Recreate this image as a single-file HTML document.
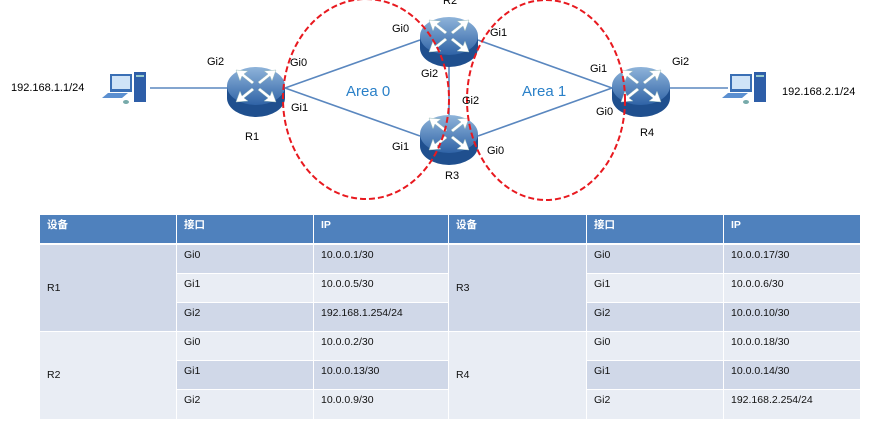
<!DOCTYPE html>
<html><head><meta charset="utf-8"><style>
body{margin:0;width:876px;height:430px;background:#fff;overflow:hidden;font-family:"Liberation Sans","Noto Sans CJK SC",sans-serif;}
svg{position:absolute;left:0;top:0}
.t{position:absolute;font-size:11px;color:#000;}
.c{position:absolute;box-sizing:border-box;padding:4px 0 0 7px;font-size:10.5px;color:#111;line-height:13px;}
.h{background:#4f81bd;color:#fff;font-weight:bold;top:215px;height:28px;}
.d{background:#d0d8e8}.l{background:#e9edf4}
.g{padding-top:0;display:flex;align-items:center}
</style></head><body>
<svg width="876" height="215">
<defs>
<linearGradient id="rg" x1="0" y1="0" x2="0" y2="1"><stop offset="0" stop-color="#8fb4da"/><stop offset="1" stop-color="#2f63a6"/></linearGradient>
<g id="r">
<ellipse cx="0" cy="8" rx="29" ry="19" fill="#1f4f8e"/>
<rect x="-29" y="-4" width="58" height="12" fill="#1f4f8e"/>
<ellipse cx="0" cy="-4" rx="29" ry="19" fill="url(#rg)"/>
<g fill="#fff" stroke="#9bb" stroke-width="0.5">
<path d="M-4,-6 L-14,-14 L-16,-9 L-20,-20 L-8,-19 L-12,-16 L-2,-8Z"/>
<path d="M4,-6 L14,-14 L16,-9 L20,-20 L8,-19 L12,-16 L2,-8Z"/>
<path d="M-4,-2 L-14,6 L-16,1 L-20,12 L-8,11 L-12,8 L-2,0Z"/>
<path d="M4,-2 L14,6 L16,1 L20,12 L8,11 L12,8 L2,0Z"/>
</g></g>
<g id="pc">
<rect x="-20" y="-20" width="22" height="18" fill="#3a6fb5"/><rect x="-18" y="-18" width="18" height="13" fill="#cfe3f7"/>
<path d="M-28,4 L-8,4 L-2,-1 L-22,-1Z" fill="#5b8fd0"/>
<rect x="4" y="-22" width="12" height="30" fill="#2e5ea8"/><rect x="6" y="-19" width="8" height="2" fill="#9cc"/>
<ellipse cx="-4" cy="8" rx="3" ry="2" fill="#7aa"/>
</g>
</defs>
<g stroke="#5a87bf" stroke-width="1.6" fill="none">
<line x1="150" y1="88" x2="230" y2="88"/>
<line x1="285" y1="88" x2="420" y2="40"/>
<line x1="285" y1="88" x2="420" y2="136"/>
<line x1="449" y1="55" x2="449" y2="120"/>
<line x1="478" y1="40" x2="612" y2="88"/>
<line x1="478" y1="136" x2="612" y2="88"/>
<line x1="670" y1="88" x2="728" y2="88"/>
</g>
<use href="#r" x="256" y="90"/>
<use href="#r" x="449" y="40"/>
<use href="#r" x="449" y="138"/>
<use href="#r" x="641" y="90"/>
<use href="#pc" x="130" y="94"/>
<use href="#pc" x="750" y="94"/>
<g stroke="#e8191f" stroke-width="2" fill="none" stroke-dasharray="6,3">
<ellipse cx="366" cy="99" rx="83" ry="100"/>
<ellipse cx="546" cy="100" rx="79" ry="100"/>
</g>
<text x="346" y="96" font-size="15" fill="#2a80c8" font-family="Liberation Sans">Area 0</text>
<text x="522" y="96" font-size="15" fill="#2a80c8" font-family="Liberation Sans">Area 1</text>
</svg>
<div class="t" style="left:11px;top:82px">192.168.1.1/24</div>
<div class="t" style="left:207px;top:56px">Gi2</div>
<div class="t" style="left:290px;top:57px">Gi0</div>
<div class="t" style="left:291px;top:102px">Gi1</div>
<div class="t" style="left:245px;top:131px">R1</div>
<div class="t" style="left:392px;top:23px">Gi0</div>
<div class="t" style="left:421px;top:68px">Gi2</div>
<div class="t" style="left:392px;top:141px">Gi1</div>
<div class="t" style="left:443px;top:-5px">R2</div>
<div class="t" style="left:490px;top:27px">Gi1</div>
<div class="t" style="left:462px;top:95px">Gi2</div>
<div class="t" style="left:487px;top:145px">Gi0</div>
<div class="t" style="left:445px;top:170px">R3</div>
<div class="t" style="left:590px;top:63px">Gi1</div>
<div class="t" style="left:596px;top:106px">Gi0</div>
<div class="t" style="left:672px;top:56px">Gi2</div>
<div class="t" style="left:640px;top:127px">R4</div>
<div class="t" style="left:782px;top:86px">192.168.2.1/24</div>

<div class="c h" style="left:40px;width:136px">设备</div>
<div class="c h" style="left:177px;width:136px">接口</div>
<div class="c h" style="left:314px;width:134px">IP</div>
<div class="c h" style="left:449px;width:137px">设备</div>
<div class="c h" style="left:587px;width:136px">接口</div>
<div class="c h" style="left:724px;width:136px">IP</div>

<div class="c d g" style="left:40px;width:136px;top:245px;height:86px">R1</div>
<div class="c l g" style="left:40px;width:136px;top:332px;height:87px">R2</div>
<div class="c d g" style="left:449px;width:137px;top:245px;height:86px">R3</div>
<div class="c l g" style="left:449px;width:137px;top:332px;height:87px">R4</div>

<div class="c d" style="left:177px;width:136px;top:245px;height:28px">Gi0</div>
<div class="c l" style="left:177px;width:136px;top:274px;height:28px">Gi1</div>
<div class="c d" style="left:177px;width:136px;top:303px;height:28px">Gi2</div>
<div class="c l" style="left:177px;width:136px;top:332px;height:28px">Gi0</div>
<div class="c d" style="left:177px;width:136px;top:361px;height:28px">Gi1</div>
<div class="c l" style="left:177px;width:136px;top:390px;height:29px">Gi2</div>

<div class="c d" style="left:314px;width:134px;top:245px;height:28px">10.0.0.1/30</div>
<div class="c l" style="left:314px;width:134px;top:274px;height:28px">10.0.0.5/30</div>
<div class="c d" style="left:314px;width:134px;top:303px;height:28px">192.168.1.254/24</div>
<div class="c l" style="left:314px;width:134px;top:332px;height:28px">10.0.0.2/30</div>
<div class="c d" style="left:314px;width:134px;top:361px;height:28px">10.0.0.13/30</div>
<div class="c l" style="left:314px;width:134px;top:390px;height:29px">10.0.0.9/30</div>

<div class="c d" style="left:587px;width:136px;top:245px;height:28px">Gi0</div>
<div class="c l" style="left:587px;width:136px;top:274px;height:28px">Gi1</div>
<div class="c d" style="left:587px;width:136px;top:303px;height:28px">Gi2</div>
<div class="c l" style="left:587px;width:136px;top:332px;height:28px">Gi0</div>
<div class="c d" style="left:587px;width:136px;top:361px;height:28px">Gi1</div>
<div class="c l" style="left:587px;width:136px;top:390px;height:29px">Gi2</div>

<div class="c d" style="left:724px;width:136px;top:245px;height:28px">10.0.0.17/30</div>
<div class="c l" style="left:724px;width:136px;top:274px;height:28px">10.0.0.6/30</div>
<div class="c d" style="left:724px;width:136px;top:303px;height:28px">10.0.0.10/30</div>
<div class="c l" style="left:724px;width:136px;top:332px;height:28px">10.0.0.18/30</div>
<div class="c d" style="left:724px;width:136px;top:361px;height:28px">10.0.0.14/30</div>
<div class="c l" style="left:724px;width:136px;top:390px;height:29px">192.168.2.254/24</div>
</body></html>
